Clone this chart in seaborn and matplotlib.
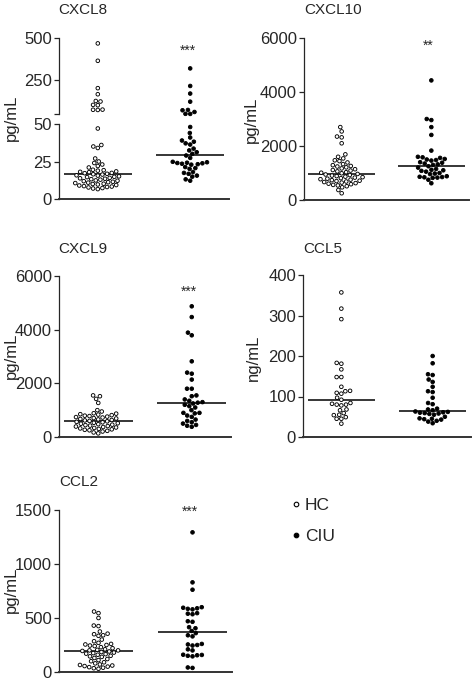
import numpy as np
import pandas as pd
import matplotlib
matplotlib.use("Agg")
import matplotlib.pyplot as plt
import seaborn as sns
from matplotlib.lines import Line2D

# -----------------------------
# Data
# -----------------------------
groups = ["HC", "CIU"]

cxcl8_hc = [468, 365, 203, 167, 127, 124, 104, 102, 76, 74, 75,
            47, 36, 35, 34, 27, 25, 24, 23, 22, 21,
            19.5, 19.2, 18.9, 18.4, 18.1, 17.9, 17.4, 17.2, 16.8, 16.5,
            16.3, 15.8, 15.6, 15.1, 14.8, 14.6, 14.1, 13.8, 13.5, 13.2,
            12.9, 12.4, 12.2, 11.9, 11.5, 11.2, 10.9, 10.6, 10.2, 10.0,
            9.7, 9.3, 9.0, 8.6, 8.3, 8.0, 7.7, 7.3, 7.0, 6.6]
cxcl8_ciu = [320, 216, 171, 123, 74, 72, 62, 51, 50.5,
             48, 44, 41, 39, 38.2, 37.1, 36.3, 33.6, 32.4, 31.2, 30.1, 29.0, 27.4,
             24.8, 24.5, 24.2, 24.0, 23.8, 23.5, 23.2, 22.9,
             21.3, 20.6, 20.1, 18.0, 17.4, 16.8, 15.6, 14.9, 13.1, 12.2]

cxcl10_hc = [2700, 2540, 2350, 2320, 2100, 1690, 1600, 1540, 1470, 1440,
             1390, 1330, 1290, 1260, 1240, 1210, 1170, 1140, 1110, 1090,
             1060, 1030, 1010, 990, 965, 945, 925, 905, 885, 865,
             845, 830, 810, 790, 770, 755, 735, 715, 700, 685,
             665, 645, 625, 605, 585, 560, 540, 510, 470, 370, 250]
cxcl10_ciu = [4430, 3000, 2960, 2700, 2410, 1830,
              1600, 1580, 1560, 1520, 1500, 1480, 1460,
              1400, 1380, 1350, 1320, 1300,
              1250, 1200, 1150, 1120, 1100, 1080,
              1050, 1000, 980, 960,
              880, 860, 850, 840, 830, 820, 750, 620]

cxcl9_hc = [1550, 1520, 1420, 1270, 1000, 950,
            885, 870, 850, 835, 815, 795, 780, 760, 742, 725,
            705, 690, 672, 655, 635, 618, 600, 585, 565, 548,
            530, 512, 495, 478, 460, 442, 425, 408, 390, 372,
            355, 338, 320, 302, 285, 268, 250, 230, 205, 170, 135]
cxcl9_ciu = [4870, 4470, 3890, 3790, 2820, 2400, 2360, 2140, 1800, 1800,
             1550, 1520, 1400, 1350, 1300, 1280, 1250, 1200, 1150, 1100,
             1000, 900, 900, 880, 800, 750, 650, 600, 550, 500, 450, 420, 380]

ccl5_hc = [357, 317, 291, 183, 181, 167, 148, 148, 124, 114, 113, 109, 107,
           97, 92, 84, 82, 80, 80, 78, 68, 66, 59, 55, 54, 49, 45, 45, 33]
ccl5_ciu = [200, 182, 155, 153, 142, 136, 124, 113, 111, 97, 84, 81, 70, 68,
            66, 63, 62, 61, 60, 59, 58, 57, 55, 50, 46, 45, 44, 43, 40, 38, 34]

ccl2_hc = [560, 545, 500, 430, 425, 375, 355, 350, 340, 335, 300, 285, 270,
           260, 255, 250, 245, 240, 230, 220, 210, 205, 200, 200, 195, 190,
           185, 180, 175, 170, 165, 160, 150, 145, 140, 130, 120, 110, 100,
           90, 80, 70, 65, 60, 55, 50, 45, 40, 35, 30]
ccl2_ciu = [1293, 830, 762, 600, 595, 590, 585, 580, 545, 540, 535, 470, 465,
            415, 405, 380, 360, 340, 330, 260, 255, 250, 245, 210, 200,
            160, 158, 155, 150, 145, 42, 38]

# -----------------------------
# Figure setup
# -----------------------------
sns.set_style("ticks")
plt.rcParams["font.family"] = ["Liberation Sans", "DejaVu Sans"]

W, H = 474, 682
fig = plt.figure(figsize=(W / 100, H / 100), dpi=100)


def add_ax(left, top, right, bottom):
    return fig.add_axes([left / W, 1 - bottom / H, (right - left) / W, (bottom - top) / H])


def fig_text(x, y, s, **kw):
    fig.text(x / W, 1 - y / H, s, **kw)


XLIM = (-0.42, 1.42)


def swarm(ax, hc, ciu):
    df = pd.DataFrame({"group": ["HC"] * len(hc) + ["CIU"] * len(ciu),
                       "value": list(hc) + list(ciu)})
    sns.swarmplot(data=df, x="group", y="value", hue="group", order=groups,
                  hue_order=groups, palette={"HC": "white", "CIU": "black"},
                  edgecolor="black", linewidth=0.65, size=2.6, legend=False, ax=ax)
    for c in ax.collections:
        c.set_clip_on(False)
        c.set_zorder(3)
    ax.set_xlim(*XLIM)
    ax.set_xlabel("")
    ax.set_ylabel("")
    ax.set_xticks([])
    sns.despine(ax=ax)
    ax.tick_params(axis="y", labelsize=12, length=3.5, width=0.9, pad=1.5)
    ax.spines["left"].set_linewidth(0.9)
    ax.spines["bottom"].set_linewidth(1.4)
    ax.spines["bottom"].set_color("#333333")


def medians(ax, hc, ciu):
    for i, vals in enumerate([hc, ciu]):
        ax.hlines(np.median(vals), i - 0.37, i + 0.37, color="black", lw=1.1, zorder=1)


def stars(ax, s, y):
    ax.text(0.97, y, s, ha="center", va="baseline", fontsize=10, clip_on=False)


# --- CXCL8 (broken axis) ---
ax8u = add_ax(59, 38, 229, 114)
ax8l = add_ax(59, 124, 229, 199)
swarm(ax8u, [v for v in cxcl8_hc if v > 50], [v for v in cxcl8_ciu if v > 50])
swarm(ax8l, [v for v in cxcl8_hc if v <= 50], [v for v in cxcl8_ciu if v <= 50])
ax8u.set_ylim(50, 500)
ax8u.set_yticks([50, 250, 500])
ax8u.set_yticklabels(["", "250", "500"])
ax8u.spines["bottom"].set_visible(False)
ax8l.set_ylim(0, 50)
ax8l.set_yticks([0, 25, 50])
medians(ax8l, cxcl8_hc, cxcl8_ciu)
stars(ax8u, "***", 399)
fig_text(58, 10, "CXCL8", fontsize=11, va="center", ha="left")
fig_text(11, 118, "pg/mL", fontsize=12, rotation=90, va="center", ha="center")

# --- CXCL10 ---
ax10 = add_ax(304, 38, 469, 200)
swarm(ax10, cxcl10_hc, cxcl10_ciu)
ax10.set_ylim(0, 6000)
ax10.set_yticks([0, 2000, 4000, 6000])
medians(ax10, cxcl10_hc, cxcl10_ciu)
stars(ax10, "**", 5567)
fig_text(304, 10, "CXCL10", fontsize=11, va="center", ha="left")
fig_text(251, 120, "pg/mL", fontsize=12, rotation=90, va="center", ha="center")

# --- CXCL9 ---
ax9 = add_ax(59, 276, 231, 437)
swarm(ax9, cxcl9_hc, cxcl9_ciu)
ax9.set_ylim(0, 6000)
ax9.set_yticks([0, 2000, 4000, 6000])
medians(ax9, cxcl9_hc, cxcl9_ciu)
stars(ax9, "***", 5255)
fig_text(58, 249, "CXCL9", fontsize=11, va="center", ha="left")
fig_text(11, 356, "pg/mL", fontsize=12, rotation=90, va="center", ha="center")

# --- CCL5 ---
ax5 = add_ax(303, 275, 471, 437)
swarm(ax5, ccl5_hc, ccl5_ciu)
ax5.set_ylim(0, 400)
ax5.set_yticks([0, 100, 200, 300, 400])
medians(ax5, ccl5_hc, ccl5_ciu)
fig_text(303, 249, "CCL5", fontsize=11, va="center", ha="left")
fig_text(253, 358, "ng/mL", fontsize=12, rotation=90, va="center", ha="center")

# --- CCL2 ---
ax2 = add_ax(59, 510, 232, 672)
swarm(ax2, ccl2_hc, ccl2_ciu)
ax2.set_ylim(0, 1500)
ax2.set_yticks([0, 500, 1000, 1500])
medians(ax2, ccl2_hc, ccl2_ciu)
stars(ax2, "***", 1445)
fig_text(59, 482, "CCL2", fontsize=11, va="center", ha="left")
fig_text(11, 590, "pg/mL", fontsize=12, rotation=90, va="center", ha="center")

# --- legend ---
handles = [
    Line2D([], [], marker="o", ls="", mfc="white", mec="black", ms=3.3, mew=0.8, label="HC"),
    Line2D([], [], marker="o", ls="", mfc="black", mec="black", ms=3.3, mew=0.8, label="CIU"),
]
fig.legend(handles=handles, loc="upper left", bbox_to_anchor=(292 / W, 1 - 498 / H),
           frameon=False, fontsize=12.5, handlelength=0.5, handletextpad=0.25,
           labelspacing=0.9, borderpad=0, borderaxespad=0)

fig.savefig("out.png", dpi=100)
